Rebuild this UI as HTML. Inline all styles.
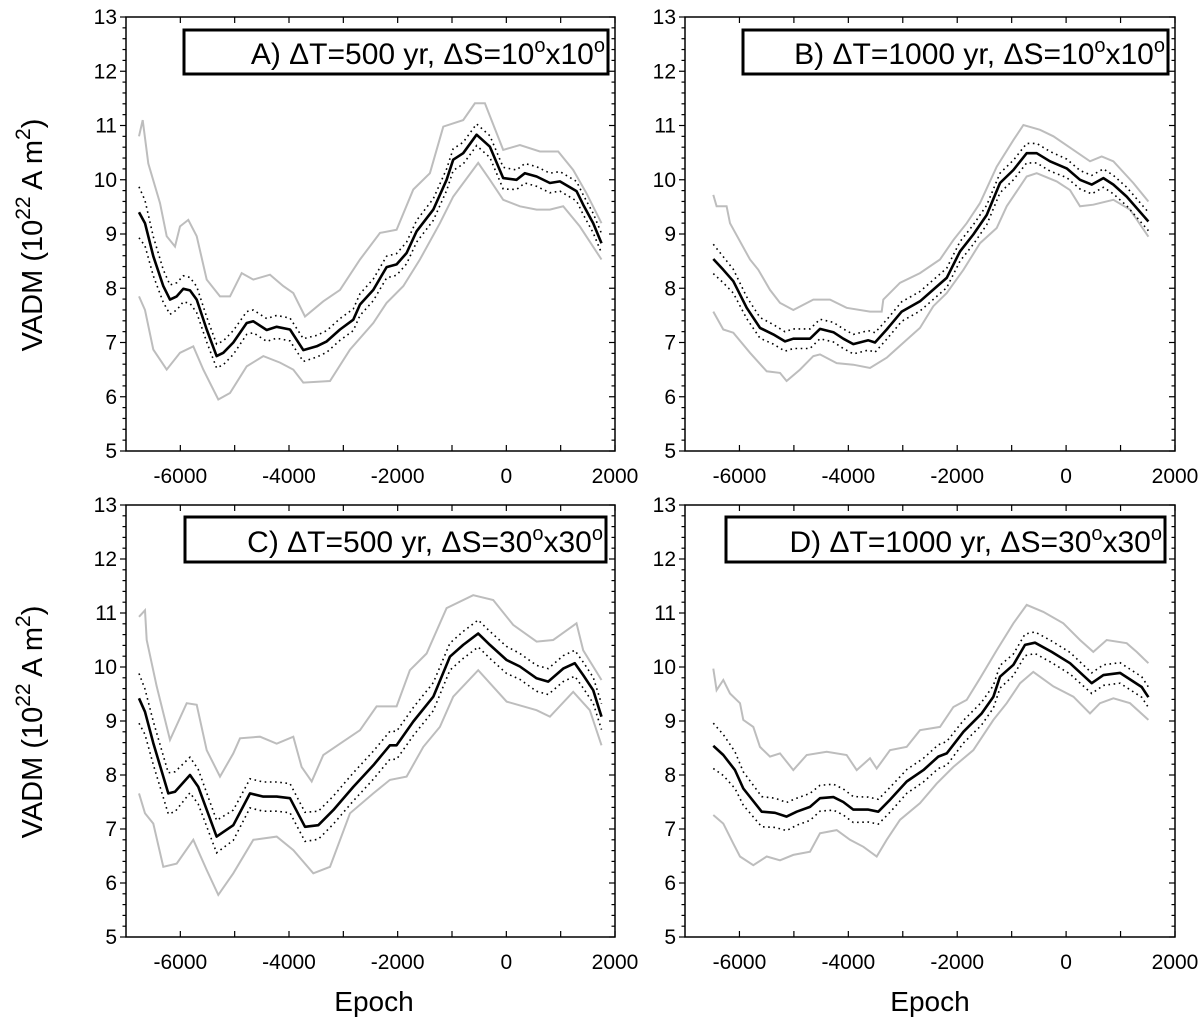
<!DOCTYPE html>
<html><head><meta charset="utf-8"><style>
body{margin:0;background:#fff;}
svg{display:block;font-family:"Liberation Sans",Arial,sans-serif;}
</style></head><body>
<svg id="chart" width="1200" height="1022" viewBox="0 0 1200 1022" xmlns="http://www.w3.org/2000/svg">
<text transform="translate(42,235) rotate(-90)" text-anchor="middle" font-size="29">VADM (10<tspan dy="-12" font-size="21">22</tspan><tspan dy="12"> A m</tspan><tspan dy="-12" font-size="21">2</tspan><tspan dy="12">)</tspan></text>
<text transform="translate(42,722) rotate(-90)" text-anchor="middle" font-size="29">VADM (10<tspan dy="-12" font-size="21">22</tspan><tspan dy="12"> A m</tspan><tspan dy="-12" font-size="21">2</tspan><tspan dy="12">)</tspan></text>
<text x="374" y="1011" text-anchor="middle" font-size="28">Epoch</text>
<text x="930" y="1011" text-anchor="middle" font-size="28">Epoch</text>
</svg>
<script>
// Panel A data
const aEpoch=[-6760,-6650,-6497,-6313,-6190,-6067,-5945,-5822,-5699,-5515,-5332,-5209,-5025,-4779,-4657,-4411,-4227,-3982,-3737,-3491,-3307,-3062,-2817,-2694,-2449,-2204,-2020,-1836,-1652,-1345,-1100,-977,-793,-548,-302,-57,188,342,557,802,986,1292,1415,1599,1752];
const aMean=[9.40,9.20,8.59,8.04,7.79,7.85,7.99,7.96,7.79,7.24,6.75,6.81,7.00,7.36,7.39,7.23,7.29,7.24,6.86,6.93,7.02,7.24,7.42,7.70,7.97,8.39,8.44,8.65,9.05,9.45,10.00,10.37,10.49,10.83,10.61,10.03,10.00,10.12,10.06,9.94,9.97,9.79,9.54,9.20,8.83];
const aErr=[0.47,0.42,0.36,0.3,0.27,0.25,0.24,0.24,0.24,0.23,0.22,0.22,0.22,0.21,0.21,0.21,0.21,0.21,0.21,0.2,0.2,0.2,0.2,0.2,0.2,0.2,0.2,0.2,0.2,0.2,0.2,0.2,0.2,0.2,0.2,0.2,0.18,0.18,0.18,0.18,0.18,0.18,0.18,0.18,0.18];
const aUpEpoch=[-6760,-6693,-6589,-6374,-6251,-6098,-6006,-5853,-5699,-5515,-5270,-5086,-4871,-4657,-4350,-4105,-3921,-3706,-3369,-3062,-2694,-2326,-2020,-1713,-1407,-1161,-793,-578,-394,-57,250,618,955,1231,1476,1752];
const aUp=[10.8,11.1,10.3,9.57,8.96,8.77,9.14,9.26,8.96,8.16,7.85,7.85,8.28,8.16,8.25,8.04,7.91,7.48,7.76,7.97,8.53,9.02,9.08,9.82,10.12,10.98,11.1,11.41,11.41,10.55,10.64,10.52,10.52,10.18,9.75,9.2];
const aLoEpoch=[-6760,-6650,-6497,-6251,-6006,-5761,-5577,-5301,-5086,-4779,-4473,-4166,-3921,-3737,-3246,-2878,-2449,-2204,-1897,-1590,-1222,-977,-517,-302,-57,250,557,802,1047,1353,1752];
const aLo=[7.85,7.6,6.87,6.5,6.81,6.93,6.5,5.95,6.07,6.56,6.75,6.63,6.5,6.26,6.29,6.87,7.36,7.73,8.04,8.53,9.2,9.69,10.31,10.0,9.63,9.51,9.45,9.45,9.51,9.14,8.53];
// Panel B data
const bEpoch=[-6480,-6296,-6112,-5867,-5622,-5378,-5163,-5010,-4704,-4520,-4275,-4092,-3908,-3633,-3510,-3296,-3020,-2683,-2377,-2194,-1949,-1704,-1459,-1214,-969,-724,-541,-295,11,256,470,684,868,1113,1511];
const bMean=[8.54,8.34,8.13,7.64,7.27,7.15,7.02,7.07,7.07,7.25,7.19,7.07,6.97,7.04,7.0,7.24,7.57,7.76,8.03,8.19,8.68,8.99,9.35,9.94,10.18,10.49,10.49,10.34,10.21,10.0,9.91,10.03,9.91,9.69,9.23];
const bErr=[0.27,0.24,0.22,0.2,0.19,0.18,0.18,0.18,0.18,0.18,0.18,0.18,0.18,0.18,0.18,0.18,0.18,0.18,0.18,0.18,0.18,0.18,0.18,0.18,0.18,0.18,0.18,0.18,0.17,0.17,0.17,0.17,0.17,0.17,0.17];
const bUpEpoch=[-6480,-6419,-6235,-6174,-5806,-5653,-5439,-5255,-5010,-4643,-4337,-4031,-3602,-3388,-3357,-3051,-2683,-2316,-2071,-1826,-1581,-1275,-969,-785,-479,-234,133,439,653,868,1235,1511];
const bUp=[9.72,9.51,9.51,9.2,8.53,8.34,7.97,7.73,7.6,7.79,7.79,7.64,7.57,7.57,7.79,8.1,8.28,8.53,8.89,9.2,9.57,10.24,10.73,11.01,10.92,10.8,10.55,10.34,10.43,10.34,9.94,9.6];
const bLoEpoch=[-6480,-6296,-6112,-5806,-5500,-5255,-5133,-4888,-4643,-4520,-4214,-3908,-3602,-3296,-2928,-2683,-2439,-2194,-1887,-1581,-1275,-1091,-724,-541,-173,72,256,500,868,1174,1511];
const bLo=[7.57,7.24,7.18,6.81,6.47,6.44,6.29,6.5,6.75,6.78,6.62,6.59,6.53,6.72,7.05,7.27,7.67,7.91,8.34,8.83,9.11,9.51,10.06,10.12,9.97,9.81,9.51,9.54,9.63,9.45,8.95];
// Panel C data
const cEpoch=[-6760,-6650,-6497,-6221,-6098,-5822,-5669,-5332,-5025,-4718,-4473,-4227,-3982,-3706,-3461,-3185,-2817,-2449,-2143,-2020,-1713,-1345,-1038,-793,-517,-302,4,250,557,771,1047,1261,1415,1599,1752];
const cMean=[9.42,9.17,8.59,7.66,7.69,8.0,7.78,6.86,7.07,7.66,7.6,7.6,7.57,7.04,7.07,7.35,7.78,8.18,8.55,8.55,8.99,9.45,10.19,10.41,10.62,10.41,10.13,10.01,9.79,9.73,9.97,10.07,9.85,9.57,9.08];
const cErr=[0.46,0.42,0.4,0.38,0.37,0.33,0.32,0.3,0.28,0.27,0.27,0.27,0.27,0.27,0.26,0.26,0.26,0.26,0.26,0.26,0.26,0.26,0.25,0.25,0.25,0.25,0.25,0.24,0.24,0.24,0.24,0.24,0.24,0.24,0.24];
const cUpEpoch=[-6760,-6650,-6619,-6435,-6190,-5883,-5699,-5515,-5270,-5025,-4902,-4534,-4227,-3921,-3768,-3583,-3369,-3062,-2694,-2388,-2020,-1774,-1468,-1100,-609,-241,127,557,863,1292,1415,1752];
const cUp=[10.93,11.05,10.5,9.64,8.65,9.33,9.3,8.46,7.97,8.4,8.68,8.71,8.58,8.71,8.15,7.88,8.37,8.58,8.83,9.27,9.27,9.94,10.25,11.09,11.33,11.24,10.78,10.47,10.5,10.81,10.31,9.76];
const cLoEpoch=[-6760,-6650,-6497,-6313,-6067,-5761,-5515,-5301,-5025,-4657,-4227,-3921,-3553,-3246,-2878,-2449,-2143,-1836,-1529,-1222,-977,-517,4,557,802,1231,1537,1752];
const cLo=[7.66,7.29,7.1,6.3,6.36,6.8,6.24,5.78,6.18,6.8,6.86,6.61,6.18,6.3,7.29,7.66,7.91,7.97,8.52,8.89,9.45,9.94,9.36,9.2,9.08,9.54,9.2,8.55];
// Panel D data
const dEpoch=[-6480,-6296,-6082,-5929,-5592,-5347,-5133,-4949,-4704,-4520,-4275,-4092,-3908,-3633,-3449,-3235,-2928,-2622,-2347,-2194,-1887,-1551,-1336,-1214,-969,-755,-571,-265,72,470,684,990,1174,1388,1511];
const dMean=[8.54,8.37,8.09,7.75,7.32,7.3,7.23,7.32,7.41,7.57,7.59,7.5,7.36,7.36,7.32,7.54,7.88,8.09,8.34,8.4,8.8,9.14,9.45,9.82,10.04,10.41,10.45,10.28,10.07,9.7,9.85,9.89,9.77,9.63,9.44];
const dErr=[0.42,0.38,0.34,0.31,0.28,0.27,0.26,0.25,0.25,0.24,0.24,0.24,0.24,0.23,0.23,0.23,0.22,0.22,0.22,0.22,0.21,0.21,0.21,0.21,0.2,0.2,0.2,0.2,0.2,0.19,0.19,0.19,0.19,0.19,0.19];
const dUpEpoch=[-6480,-6419,-6296,-6174,-5990,-5929,-5745,-5622,-5439,-5255,-5010,-4765,-4398,-4031,-3847,-3602,-3479,-3235,-2928,-2683,-2316,-2071,-1826,-1581,-1275,-969,-724,-418,-51,256,500,745,1113,1297,1511];
const dUp=[9.97,9.57,9.76,9.51,9.33,9.02,8.89,8.52,8.34,8.4,8.09,8.37,8.43,8.37,8.09,8.31,8.12,8.46,8.52,8.83,8.89,9.26,9.39,9.79,10.31,10.81,11.15,11.02,10.81,10.5,10.28,10.5,10.44,10.28,10.07];
const dLoEpoch=[-6480,-6296,-6112,-5990,-5745,-5500,-5255,-5010,-4704,-4520,-4214,-3969,-3724,-3479,-3296,-3051,-2683,-2377,-2071,-1704,-1336,-1091,-846,-602,-234,133,439,623,868,1174,1511];
const dLo=[7.26,7.1,6.73,6.49,6.33,6.49,6.42,6.52,6.58,6.92,6.98,6.8,6.67,6.49,6.8,7.17,7.48,7.84,8.15,8.46,9.02,9.33,9.7,9.91,9.64,9.45,9.14,9.33,9.42,9.33,9.02];
const yTicks=[5,6,7,8,9,10,11,12,13];
const xTicks=[-6000,-4000,-2000,0,2000];

const NS='http://www.w3.org/2000/svg';
const svg=document.getElementById('chart');
function mk(tag,attrs,parent){const e=document.createElementNS(NS,tag);for(const k in attrs)e.setAttribute(k,attrs[k]);(parent||svg).appendChild(e);return e;}

const panels=[
 {id:'a',x0:126,x1:615,y0:17,y1:451,ep:aEpoch,m:aMean,er:aErr,ue:aUpEpoch,u:aUp,le:aLoEpoch,l:aLo,box:[184,30,424,44],lab:['A) ','500','10','10']},
 {id:'b',x0:685,x1:1175,y0:17,y1:451,ep:bEpoch,m:bMean,er:bErr,ue:bUpEpoch,u:bUp,le:bLoEpoch,l:bLo,box:[743,30,425,44],lab:['B) ','1000','10','10']},
 {id:'c',x0:126,x1:615,y0:505,y1:937,ep:cEpoch,m:cMean,er:cErr,ue:cUpEpoch,u:cUp,le:cLoEpoch,l:cLo,box:[185,517,421,45],lab:['C) ','500','30','30']},
 {id:'d',x0:685,x1:1175,y0:505,y1:937,ep:dEpoch,m:dMean,er:dErr,ue:dUpEpoch,u:dUp,le:dLoEpoch,l:dLo,box:[726,517,439,45],lab:['D) ','1000','30','30']}
];
panels.forEach(p=>{
 const g=mk('g',{});
 
 
 const sx=v=>p.x0+(v+7000)/9000*(p.x1-p.x0);
 const sy=v=>p.y1-(v-5)/8*(p.y1-p.y0);
 const path=(xs,ys)=>xs.map((x,i)=>(i?'L':'M')+sx(x).toFixed(1)+','+sy(ys[i]).toFixed(1)).join('');
 const gu=mk('path',{d:path(p.ue,p.u),fill:'none',stroke:'#bdbdbd','stroke-width':2},g);
 
 
 const gl=mk('path',{d:path(p.le,p.l),fill:'none',stroke:'#bdbdbd','stroke-width':2},g);
 
 
 const du=mk('path',{d:path(p.ep,p.m.map((v,i)=>v+p.er[i])),fill:'none',stroke:'#000','stroke-width':1.6,'stroke-dasharray':'1.6,3.6'},g);
 
 
 const dl=mk('path',{d:path(p.ep,p.m.map((v,i)=>v-p.er[i])),fill:'none',stroke:'#000','stroke-width':1.6,'stroke-dasharray':'1.6,3.6'},g);
 
 
 const ml=mk('path',{d:path(p.ep,p.m),fill:'none',stroke:'#000','stroke-width':2.6,'stroke-linejoin':'round'},g);
 
 
 const fr=mk('rect',{x:p.x0,y:p.y0,width:p.x1-p.x0,height:p.y1-p.y0,fill:'none',stroke:'#000','stroke-width':1.5},g);
 
 
 for(let k=0;k<=40;k++){
  const v=5+k*0.2, y=sy(v), maj=k%5===0, L=maj?6:3.5;
  mk('line',{x1:p.x0-L,y1:y,x2:p.x0,y2:y,stroke:'#000','stroke-width':1.2},g);
  mk('line',{x1:p.x1-L,y1:y,x2:p.x1,y2:y,stroke:'#000','stroke-width':1.2},g);
 }
 yTicks.forEach(v=>{
  const t=mk('text',{x:p.x0-9,y:sy(v)+7,'text-anchor':'end','font-size':21},g);
  t.textContent=v;
  
  
 });
 for(let v=-6000;v<=2000;v+=1000){
  const x=sx(v);
  mk('line',{x1:x,y1:p.y1,x2:x,y2:p.y1-6,stroke:'#000','stroke-width':1.2},g);
  mk('line',{x1:x,y1:p.y0,x2:x,y2:p.y0+6,stroke:'#000','stroke-width':1.2},g);
 }
 xTicks.forEach(v=>{
  const t=mk('text',{x:sx(v),y:p.y1+32,'text-anchor':'middle','font-size':21},g);
  t.textContent=v;
  
  
 });
 const [bx,by,bw,bh]=p.box;
 const lb=mk('rect',{x:bx,y:by,width:bw,height:bh,fill:'#fff',stroke:'#000','stroke-width':3},g);
 
 
 const t=mk('text',{x:bx+bw-3,y:by+bh-10,'text-anchor':'end','font-size':30},g);
 
 
 t.innerHTML=p.lab[0]+'\u0394T='+p.lab[1]+' yr, \u0394S='+p.lab[2]+'<tspan dy="-12" font-size="20">o</tspan><tspan dy="12">x'+p.lab[3]+'</tspan><tspan dy="-12" font-size="20">o</tspan>';
});
</script>
</body></html>
